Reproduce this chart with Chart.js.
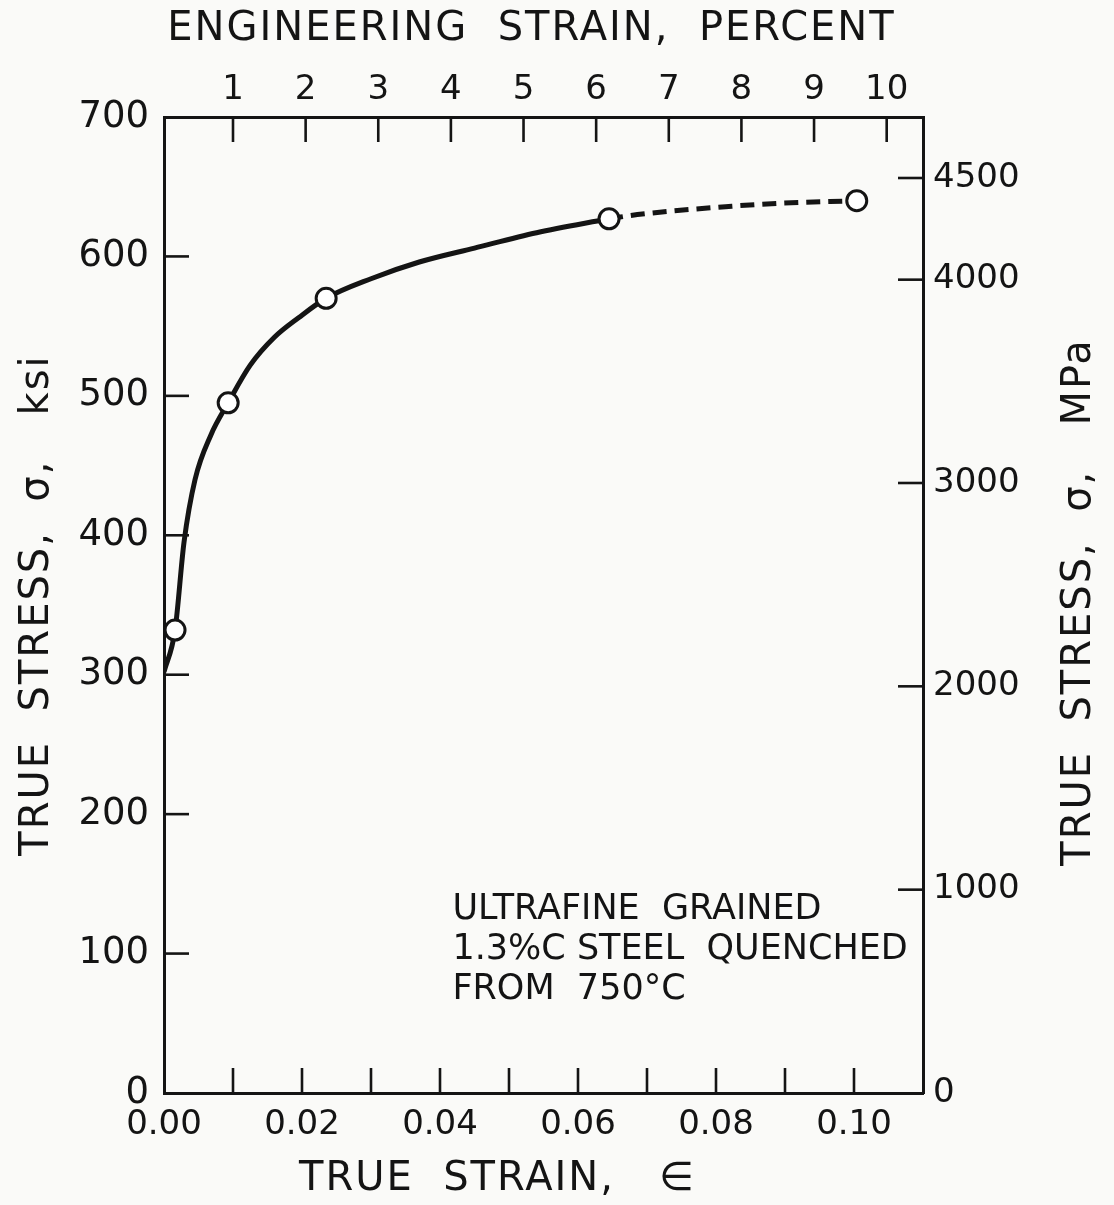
<!DOCTYPE html>
<html>
<head>
<meta charset="utf-8">
<script src="https://cdn.jsdelivr.net/npm/chart.js@4.4.1/dist/chart.umd.min.js"></script>
<style>
  html, body { margin: 0; padding: 0; background: #fafaf8; }
  #wrap { width: 1114px; height: 1205px; }
</style>
</head>
<body>
<div id="wrap"><canvas id="c" width="1114" height="1205"></canvas></div>
<script>
// Flow curve of ultrafine grained 1.3% C steel: true strain vs true stress (ksi)
const curveStrain = [0, 0.0016, 0.0029, 0.0045, 0.0068, 0.0093, 0.0125, 0.0160, 0.0195, 0.0235, 0.0300, 0.0370, 0.0450, 0.0540, 0.0645];
const curveStress = [302, 332, 395, 440, 472, 495, 522, 542, 556, 570, 584, 596, 606, 617, 627];

// Extrapolated (dashed) part of the curve
const dashStrain = [0.0645, 0.0686, 0.0823, 0.0888, 0.1004];
const dashStress = [627, 630, 636, 638, 640];

// Measured points (open circles)
const markStrain = [0.0016, 0.0093, 0.0235, 0.0645, 0.1004];
const markStress = [332, 495, 570, 627, 640];

// Axis ticks and labels
const strainTicks = [0, 0.01, 0.02, 0.03, 0.04, 0.05, 0.06, 0.07, 0.08, 0.09, 0.10];
const strainTickLabels = ['0.00', '0.02', '0.04', '0.06', '0.08', '0.10'];
const ksiTicks = [0, 100, 200, 300, 400, 500, 600, 700];
const mpaTicks = [0, 1000, 2000, 3000, 4000, 4500];
const percentTicks = [1, 2, 3, 4, 5, 6, 7, 8, 9, 10];

const titleTop = 'ENGINEERING  STRAIN,  PERCENT';
const titleBottom = 'TRUE  STRAIN,   \u2208';
const titleLeft = 'TRUE  STRESS,  \u03C3,   ksi';
const titleRight = 'TRUE  STRESS,  \u03C3,   MPa';
const noteLines = ['ULTRAFINE  GRAINED', '1.3%C STEEL  QUENCHED', 'FROM  750\u00B0C'];
const noteStress = [131, 102.5, 74];
const noteStrainStart = 0.0418;

const INK = '#141414';
const FONT = "'DejaVu Sans', 'Liberation Sans', sans-serif";

const toXY = (xs, ys) => xs.map((x, i) => ({ x: x, y: ys[i] }));
const fixTicks = vals => scale => { scale.ticks = vals.map(v => ({ value: v })); };

// Page background
const paper = {
  id: 'paper',
  beforeDraw(chart) {
    const { ctx, width, height } = chart;
    ctx.save();
    ctx.fillStyle = '#fafaf8';
    ctx.fillRect(0, 0, width, height);
    ctx.restore();
  }
};

// Tick marks pointing into the plot frame
const inwardTicks = {
  id: 'inwardTicks',
  afterDraw(chart) {
    const { ctx, chartArea: a, scales } = chart;
    const L = 25;
    ctx.save();
    ctx.strokeStyle = INK;
    ctx.lineWidth = 2.6;
    ctx.lineCap = 'butt';
    const seg = (x1, y1, x2, y2) => { ctx.beginPath(); ctx.moveTo(x1, y1); ctx.lineTo(x2, y2); ctx.stroke(); };
    scales.x.ticks.forEach(t => {
      const p = scales.x.getPixelForValue(t.value);
      if (p > a.left + 3 && p < a.right - 3) seg(p, a.bottom, p, a.bottom - L);
    });
    scales.xTop.ticks.forEach(t => {
      const p = scales.xTop.getPixelForValue(t.value);
      if (p > a.left + 3 && p < a.right - 3) seg(p, a.top, p, a.top + L);
    });
    scales.y.ticks.forEach(t => {
      const p = scales.y.getPixelForValue(t.value);
      if (p > a.top + 3 && p < a.bottom - 3) seg(a.left, p, a.left + L, p);
    });
    scales.yR.ticks.forEach(t => {
      const p = scales.yR.getPixelForValue(t.value);
      if (p > a.top + 3 && p < a.bottom - 3) seg(a.right, p, a.right - L, p);
    });
    ctx.restore();
  }
};

// Axis titles and the specimen note
const labels = {
  id: 'labels',
  afterDraw(chart) {
    const { ctx, chartArea: a, scales } = chart;
    ctx.save();
    ctx.fillStyle = INK;
    ctx.textBaseline = 'middle';
    ctx.textAlign = 'center';

    ctx.font = '40px ' + FONT;
    ctx.letterSpacing = '2px';
    ctx.fillText(titleTop, (a.left + a.right) / 2 - 12, a.top - 87);
    ctx.fillText(titleBottom, (a.left + a.right) / 2 - 46, a.bottom + 87);

    ctx.save();
    ctx.translate(38, (a.top + a.bottom) / 2);
    ctx.rotate(-Math.PI / 2);
    ctx.fillText(titleLeft, 0, 0);
    ctx.restore();

    ctx.save();
    ctx.translate(1080, (a.top + a.bottom) / 2 - 3);
    ctx.rotate(-Math.PI / 2);
    ctx.fillText(titleRight, 0, 0);
    ctx.restore();

    ctx.font = '35px ' + FONT;
    ctx.letterSpacing = '0px';
    ctx.textAlign = 'left';
    const x0 = scales.x.getPixelForValue(noteStrainStart);
    noteLines.forEach((line, i) => {
      ctx.fillText(line, x0, scales.y.getPixelForValue(noteStress[i]));
    });
    ctx.restore();
  }
};

const plain = v => String(v);

new Chart(document.getElementById('c'), {
  type: 'scatter',
  data: {
    datasets: [
      {
        data: toXY(curveStrain, curveStress),
        showLine: true,
        borderColor: INK,
        borderWidth: 5,
        pointRadius: 0,
        cubicInterpolationMode: 'monotone',
        xAxisID: 'x', yAxisID: 'y',
        order: 2
      },
      {
        data: toXY(dashStrain, dashStress),
        showLine: true,
        borderColor: INK,
        borderWidth: 5,
        borderDash: [14, 8],
        pointRadius: 0,
        cubicInterpolationMode: 'monotone',
        xAxisID: 'x', yAxisID: 'y',
        order: 2
      },
      {
        data: toXY(markStrain, markStress),
        showLine: false,
        pointRadius: 10,
        pointBorderWidth: 3,
        pointBackgroundColor: '#ffffff',
        pointBorderColor: INK,
        xAxisID: 'x', yAxisID: 'y',
        order: 1
      }
    ]
  },
  options: {
    responsive: false,
    animation: false,
    devicePixelRatio: 1,
    layout: { padding: 0 },
    plugins: { legend: { display: false }, tooltip: { enabled: false } },
    scales: {
      x: {
        type: 'linear', position: 'bottom', min: 0, max: 0.11,
        afterBuildTicks: fixTicks(strainTicks),
        afterFit: s => { s.height = 112; },
        grid: { display: true, drawOnChartArea: false, drawTicks: false },
        border: { display: true, color: INK, width: 3 },
        ticks: {
          autoSkip: false, maxRotation: 0, padding: 12, color: INK, font: { family: FONT, size: 34 },
          callback: v => strainTickLabels.find(l => Math.abs(parseFloat(l) - v) < 1e-9) || ''
        }
      },
      xTop: {
        type: 'linear', position: 'top', min: 0.05, max: 10.5,
        afterBuildTicks: fixTicks(percentTicks),
        afterFit: s => { s.height = 117; },
        grid: { display: true, drawOnChartArea: false, drawTicks: false },
        border: { display: true, color: INK, width: 3 },
        ticks: { autoSkip: false, maxRotation: 0, padding: 6, color: INK, font: { family: FONT, size: 34 }, callback: plain }
      },
      y: {
        type: 'linear', position: 'left', min: 0, max: 700,
        afterBuildTicks: fixTicks(ksiTicks),
        afterFit: s => { s.width = 164; },
        grid: { display: true, drawOnChartArea: false, drawTicks: false },
        border: { display: true, color: INK, width: 3 },
        ticks: { autoSkip: false, padding: 15, color: INK, font: { family: FONT, size: 37 }, callback: plain }
      },
      yR: {
        type: 'linear', position: 'right', min: 0, max: 4800,
        afterBuildTicks: fixTicks(mpaTicks),
        afterFit: s => { s.width = 191; },
        grid: { display: true, drawOnChartArea: false, drawTicks: false },
        border: { display: true, color: INK, width: 3 },
        ticks: { autoSkip: false, padding: 10, color: INK, font: { family: FONT, size: 34 }, callback: plain }
      }
    }
  },
  plugins: [paper, inwardTicks, labels]
});
</script>
</body>
</html>
